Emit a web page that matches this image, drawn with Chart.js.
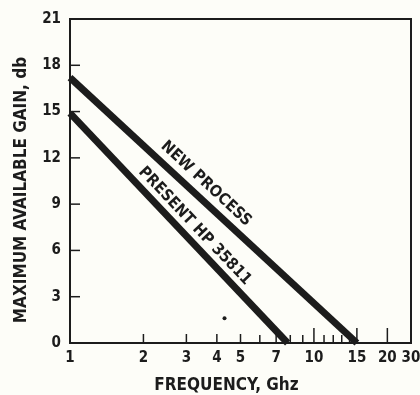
<!DOCTYPE html>
<html>
<head>
<meta charset="utf-8">
<script src="https://cdn.jsdelivr.net/npm/chart.js@4"></script>
<style>
  html, body { margin: 0; padding: 0; background: #fdfdf8; }
  #wrap { width: 420px; height: 395px; }
</style>
</head>
<body>
<div id="wrap"><canvas id="chart"></canvas></div>
<script>
/* ============================
   DATA
============================ */
const freqNew = [1, 15];
const gainNew = [17.2, 0];
const freqPresent = [1, 7.8];
const gainPresent = [14.9, 0];
const speckFreq = [4.3];
const speckGain = [1.6];

const lineLabels = ['NEW PROCESS', 'PRESENT HP 35811'];
const xTitle = 'FREQUENCY, Ghz';
const yTitle = 'MAXIMUM AVAILABLE GAIN, db';

// the original axis is squeezed at the right end: its "30" sits where 25 would be
const xTickValues = [1, 2, 3, 4, 5, 7, 10, 15, 20, 25];
const xTickLabels = ['1', '2', '3', '4', '5', '7', '10', '15', '20', '30'];
const xMinorTicks = [6, 8, 9, 11, 12, 13, 14];
const xLongTicks = [10, 15, 20];
const yTickValues = [0, 3, 6, 9, 12, 15, 18, 21];

const INK = '#1c1c1c';
const FONT = '"DejaVu Sans Condensed", "DejaVu Sans"';

/* ============================
   PLUGIN: frame, inward ticks, titles, line labels
============================ */
const framePlugin = {
    id: 'frame',
    afterDraw(chart) {
        const { ctx, chartArea: a, scales } = chart;
        const x = scales.x, y = scales.y;
        ctx.save();
        ctx.strokeStyle = INK;
        ctx.lineWidth = 2;
        ctx.strokeRect(a.left, a.top, a.right - a.left, a.bottom - a.top);

        // y ticks point into the plot
        ctx.lineWidth = 1.5;
        yTickValues.slice(1, -1).forEach(v => {
            const py = y.getPixelForValue(v);
            ctx.beginPath();
            ctx.moveTo(a.left, py);
            ctx.lineTo(a.left + 10, py);
            ctx.stroke();
        });

        // x ticks point up
        const xTick = (v, len) => {
            const px = x.getPixelForValue(v);
            ctx.beginPath();
            ctx.moveTo(px, a.bottom);
            ctx.lineTo(px, a.bottom - len);
            ctx.stroke();
        };
        xTickValues.slice(1, -1).forEach(v => xTick(v, xLongTicks.includes(v) ? 15 : 9));
        xMinorTicks.forEach(v => xTick(v, 8));

        // axis titles (the original sits them a little off-centre)
        ctx.fillStyle = INK;
        ctx.textAlign = 'center';
        ctx.textBaseline = 'middle';
        ctx.font = `bold 17px ${FONT}`;
        ctx.fillText(xTitle, (a.left + a.right) / 2 - 14, a.bottom + 43);
        ctx.save();
        ctx.translate(22, (a.top + a.bottom) / 2 + 9);
        ctx.rotate(-Math.PI / 2);
        ctx.fillText(yTitle, 0, 0);
        ctx.restore();

        // labels along the lines
        const placeLabel = (ds, text, t, off) => {
            const meta = chart.getDatasetMeta(ds);
            const p0 = meta.data[0], p1 = meta.data[1];
            const ang = Math.atan2(p1.y - p0.y, p1.x - p0.x);
            const cx = p0.x + (p1.x - p0.x) * t + Math.sin(ang) * off;
            const cy = p0.y + (p1.y - p0.y) * t - Math.cos(ang) * off;
            ctx.save();
            ctx.translate(cx, cy);
            ctx.rotate(ang);
            ctx.font = `bold 16px ${FONT}`;
            ctx.fillText(text, 0, 0);
            ctx.restore();
        };
        placeLabel(0, lineLabels[0], 0.44, 14.5);
        placeLabel(1, lineLabels[1], 0.53, 13);
        ctx.restore();
    }
};

/* ============================
   CHART
============================ */
new Chart(document.getElementById('chart'), {
    type: 'scatter',
    data: {
        datasets: [
            {
                data: freqNew.map((f, i) => ({ x: f, y: gainNew[i] })),
                showLine: true,
                borderColor: INK,
                borderWidth: 7,
                pointRadius: 0,
                borderCapStyle: 'butt'
            },
            {
                data: freqPresent.map((f, i) => ({ x: f, y: gainPresent[i] })),
                showLine: true,
                borderColor: INK,
                borderWidth: 7,
                pointRadius: 0,
                borderCapStyle: 'butt'
            },
            {
                data: speckFreq.map((f, i) => ({ x: f, y: speckGain[i] })),
                backgroundColor: INK,
                borderWidth: 0,
                pointRadius: 2
            }
        ]
    },
    options: {
        responsive: true,
        maintainAspectRatio: false,
        animation: false,
        clip: false,
        layout: { padding: { top: 19, right: 0, left: 0, bottom: 0 } },
        plugins: { legend: { display: false }, tooltip: { enabled: false } },
        scales: {
            x: {
                type: 'logarithmic',
                min: 1,
                max: 25,
                grid: { display: false, drawTicks: false },
                border: { display: false },
                afterBuildTicks: scale => {
                    scale.ticks = xTickValues.map(v => ({ value: v }));
                },
                afterFit: scale => {
                    scale.height = 52;
                    scale.paddingRight = 9;   // "30" runs up to the page edge
                },
                ticks: {
                    autoSkip: false,
                    maxRotation: 0,
                    padding: 6,
                    color: INK,
                    font: { family: FONT, size: 15, weight: 'bold' },
                    callback: (v, i) => xTickLabels[i]
                }
            },
            y: {
                min: 0,
                max: 21,
                grid: { display: false, drawTicks: false },
                border: { display: false },
                afterBuildTicks: scale => {
                    scale.ticks = yTickValues.map(v => ({ value: v }));
                },
                afterFit: scale => { scale.width = 70; },
                ticks: {
                    padding: 9,
                    color: INK,
                    font: { family: FONT, size: 15, weight: 'bold' }
                }
            }
        }
    },
    plugins: [framePlugin]
});
</script>
</body>
</html>
